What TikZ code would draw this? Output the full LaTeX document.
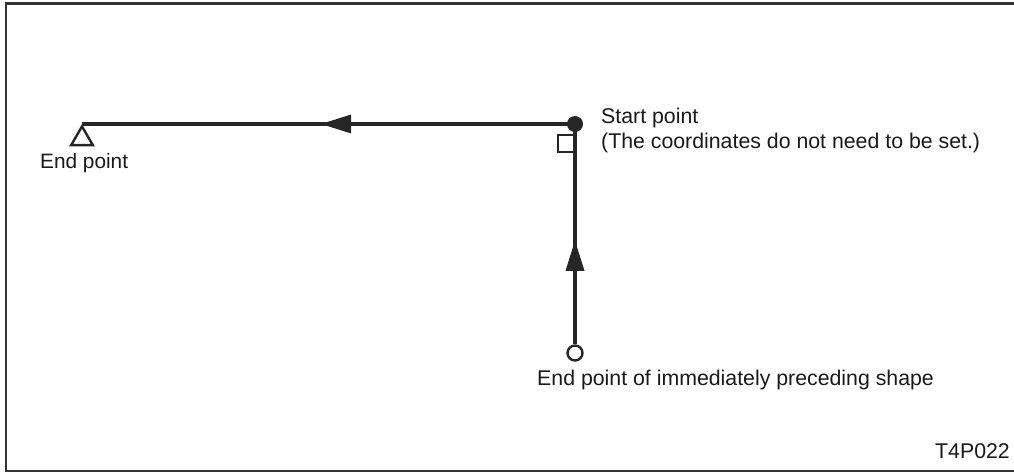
\documentclass[tikz,border=0pt]{standalone}
\usepackage{fontspec}
\setmainfont{Liberation Sans}
\usetikzlibrary{shapes.geometric,decorations.markings,arrows.meta}
\begin{document}
\begin{tikzpicture}[x=1pt,y=1pt,
  ink/.style={draw=black!85, line width=3.5pt},
  lbl/.style={inner sep=0pt, font=\fontsize{21.3}{24}\selectfont, text=black!90},
  headL/.style={postaction={decorate}, decoration={markings, mark=at position #1 with {\fill[black!85] (0,0) -- (-30,9.5) -- (-30,-9.5) -- cycle;}}},
  frameline/.style={draw=black!80, line width=2.5pt}
]
\useasboundingbox (0,0) rectangle (1014,474);
% frame (open on the right)
\draw[frameline] (1014,470.5) -- (6,470.5) -- (6,3) -- (1014,3);
% points
\node[circle, fill=black!85, minimum size=16pt, inner sep=0pt] (start) at (575,350) {};
\coordinate (endpt) at (82,350);
\node[regular polygon, regular polygon sides=3, draw=black!85, line width=2.4pt, minimum size=25pt, inner sep=0pt, anchor=corner 1] (tri) at (endpt) {};
\node[circle, draw=black!85, line width=2.4pt, minimum size=15pt, inner sep=0pt, fill=white] (prev) at (575,121) {};
% connectors
\draw[ink, headL=0.515] (start.center) -- (endpt);
\draw[ink, headL=0.47] (prev.north) -- (start.center);
% right-angle marker
\draw[draw=black!85, line width=2.2pt] (575,322) -- (558,322) -- (558,339) -- (575,339);
% labels
\node[lbl, anchor=base west] (sp1) at (601,350) {Start point};
\node[lbl, anchor=base west] (sp2) at (601,325.5) {(The coordinates do not need to be set.)};
\node[lbl, anchor=base west, font=\fontsize{20.8}{24}\selectfont] (el) at (40,305) {End point};
\node[lbl, anchor=base west] (pl) at (537,89) {End point of immediately preceding shape};
\node[lbl, anchor=base east] (code) at (1010,16) {T4P022};
\end{tikzpicture}
\end{document}
